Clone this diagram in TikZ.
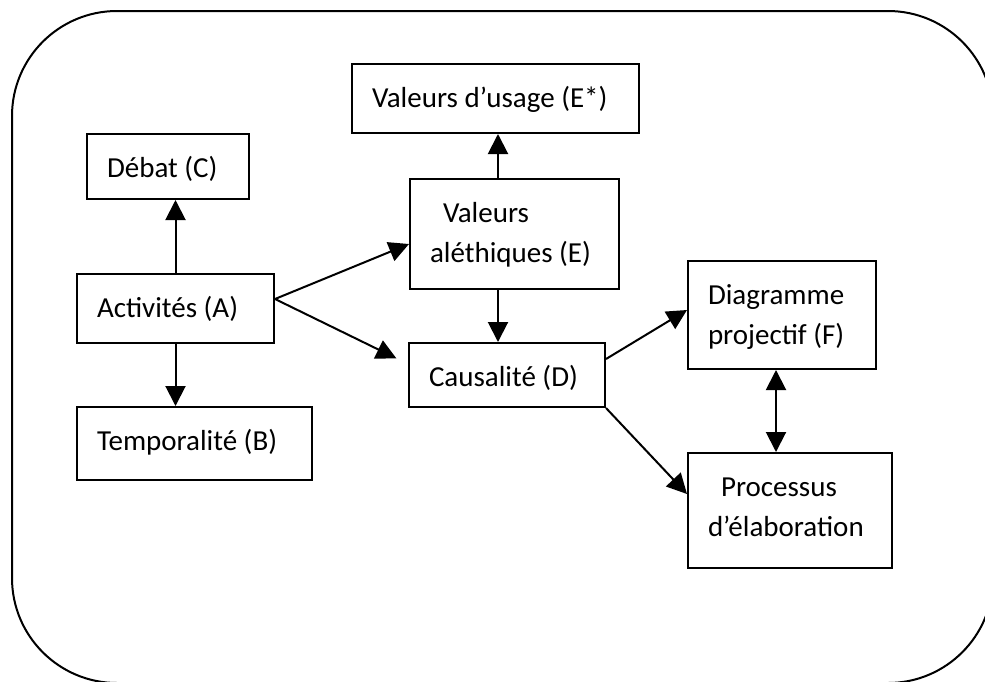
\documentclass[tikz,border=0pt]{standalone}
\usepackage{fontspec}
\setmainfont{Carlito}
\usetikzlibrary{arrows.meta,calc}
\tikzset{
  bloc/.style={draw, line width=1pt, anchor=north west, align=flush left, inner xsep=10pt, inner ysep=0pt,
    font=\fontsize{14.5pt}{20pt}\selectfont, text height=21.5pt},
  fleche/.style={line width=1pt, -{Triangle[length=10pt,width=10pt]}},
  flechedouble/.style={line width=1pt, {Triangle[length=10pt,width=10pt]}-{Triangle[length=10pt,width=10pt]}}
}
\begin{document}
\begin{tikzpicture}[x=0.5pt, y=-0.5pt]
			%%%%% START %%%%%
			\useasboundingbox (0, 0) rectangle (985, 681);
			
			\begin{scope}
				\clip (0, 0) rectangle (985, 681);
				\draw[line width=1pt, rounded corners=52.5pt] (12, 11) rectangle (993, 683);
			\end{scope}
			
			\node[bloc, text width=123.5pt, text depth=13pt] (usage) at (351, 63) {Valeurs d’usage (E*)};
			\node[bloc, text width=61pt, text depth=11pt] (debat) at (86, 133) {Débat (C)};
			\node[bloc, text width=84.5pt, text depth=33.5pt] (aleth) at (409, 178) {\hspace{6.5pt}Valeurs\\aléthiques (E)};
			\node[bloc, text width=78.5pt, text depth=13pt] (activ) at (76, 273) {Activités (A)};
			\node[bloc, text width=97.5pt, text depth=15pt] (tempo) at (76, 406) {Temporalité (B)};
			\node[bloc, text width=78pt, text depth=10.5pt] (causal) at (408, 342) {Causalité (D)};
			\node[bloc, text width=74pt, text depth=32.5pt] (projet) at (687, 260) {Diagramme\\projectif (F)};
			\node[bloc, text width=82pt, text depth=36pt] (proces) at (687, 452) {\hspace{6.5pt}Processus\\d’élaboration};
			
			\draw[fleche] (activ.north) -- (activ.north |- debat.south);
			\draw[fleche] (activ.south) -- (activ.south |- tempo.north);
			\draw[fleche] ([yshift=4.75pt]activ.east) -- ([yshift=-5pt]aleth.west);
			\draw[fleche, shorten >=6.5pt] ([yshift=4.75pt]activ.east) -- ([yshift=5.5pt]causal.west);
			
			\draw[fleche] ([xshift=-8.25pt]aleth.north) -- ([xshift=-8.25pt]aleth.north |- usage.south);
			\draw[fleche] ([xshift=-8.25pt]aleth.south) -- ([xshift=-8.25pt]aleth.south |- causal.north);
			
			\draw[fleche] ([yshift=8pt]causal.east) -- ([yshift=2.5pt]projet.west);
			\draw[fleche] (causal.south east) -- ([yshift=8.25pt]proces.west);
			\draw[flechedouble] ([xshift=-3pt]projet.south) -- ([xshift=-3pt]projet.south |- proces.north);
			%%%%% END %%%%%
\end{tikzpicture}
\end{document}
